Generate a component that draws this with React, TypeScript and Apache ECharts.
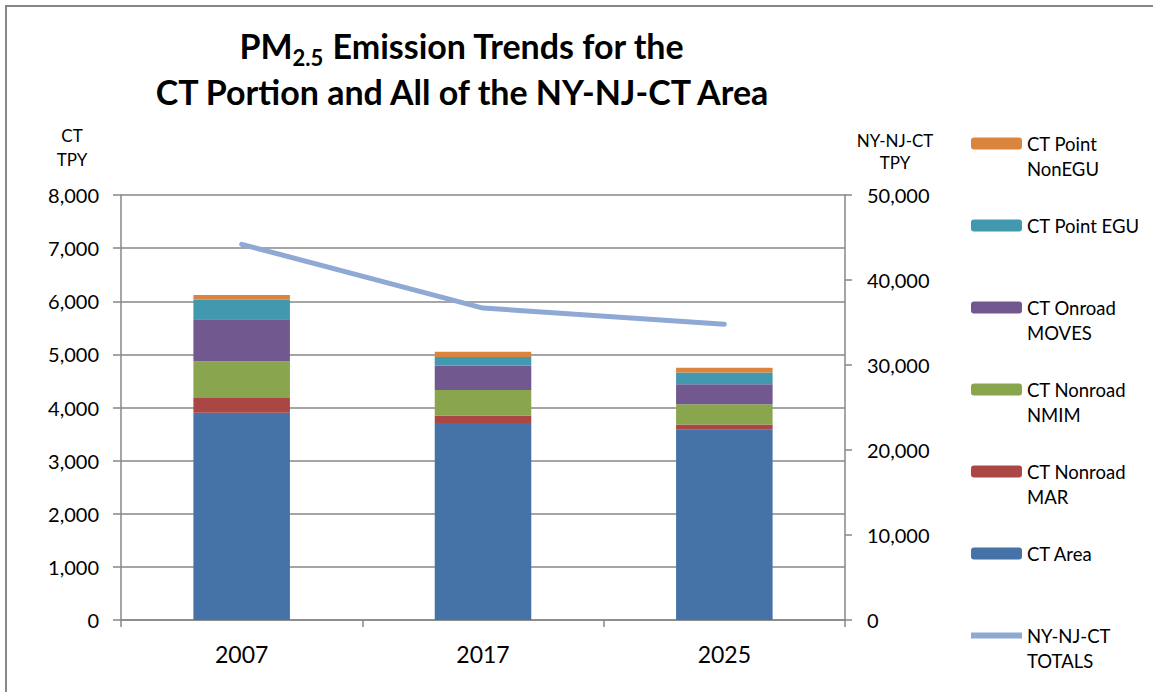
import React, { useEffect, useRef } from "react";
import * as echarts from "echarts";

const categories = ["2007", "2017", "2025"];
const ctArea = [3900, 3710, 3580];
const ctNonroadMAR = [280, 140, 100];
const ctNonroadNMIM = [690, 480, 380];
const ctOnroadMOVES = [790, 460, 380];
const ctPointEGU = [370, 160, 220];
const ctPointNonEGU = [90, 100, 90];
const nyNjCtTotals = [44200, 36700, 34800];

const leftTicks = { min: 0, max: 8000, interval: 1000 };
const rightTicks = { min: 0, max: 50000, interval: 10000 };

const FONT = "Lato, 'Noto Sans', sans-serif";
const GRAY = "#878787";

const legendText: Record<string, string> = {
  "CT Point NonEGU": "\nCT Point\nNonEGU",
  "CT Point EGU": "\nCT Point EGU\n",
  "CT Onroad MOVES": "\nCT Onroad\nMOVES",
  "CT Nonroad NMIM": "\nCT Nonroad\nNMIM",
  "CT Nonroad MAR": "\nCT Nonroad\nMAR",
  "CT Area": "\nCT Area\n",
  "NY-NJ-CT TOTALS": "\nNY-NJ-CT\nTOTALS",
};

export default function App() {
  const ref = useRef<HTMLDivElement>(null);
  useEffect(() => {
    if (!ref.current) return;
    const chart = echarts.init(ref.current, null, { renderer: "svg" });
    const barSeries = [
      { name: "CT Area", data: ctArea, color: "#4572A7" },
      { name: "CT Nonroad MAR", data: ctNonroadMAR, color: "#AA4643" },
      { name: "CT Nonroad NMIM", data: ctNonroadNMIM, color: "#89A54E" },
      { name: "CT Onroad MOVES", data: ctOnroadMOVES, color: "#71588F" },
      { name: "CT Point EGU", data: ctPointEGU, color: "#4198AF" },
      { name: "CT Point NonEGU", data: ctPointNonEGU, color: "#DB843D" },
    ].map((s) => ({
      type: "bar" as const,
      name: s.name,
      data: s.data,
      stack: "ct",
      barWidth: "40%",
      itemStyle: { color: s.color },
    }));

    chart.setOption({
      animation: false,
      textStyle: { fontFamily: FONT, color: "#000" },
      graphic: [
        {
          type: "rect",
          shape: { x: 6, y: 6, width: 1160, height: 700 },
          style: { fill: "none", stroke: GRAY, lineWidth: 2 },
          silent: true,
        },
        {
          type: "text",
          x: 462,
          y: 22,
          style: {
            text: "{a|PM}{s|2.5}{a| Emission Trends for the}\n{a|CT Portion and All of the NY-NJ-CT Area}",
            align: "center",
            verticalAlign: "top",
            fontFamily: FONT,
            rich: {
              a: { fontSize: 34, fontWeight: "bold", lineHeight: 46, fontFamily: FONT, fill: "#000" },
              s: { fontSize: 22, fontWeight: "bold", lineHeight: 46, fontFamily: FONT, fill: "#000", padding: [24, 0, 0, 0] },
            },
          },
        },
      ],
      grid: { left: 121, right: 308, top: 195, bottom: 72 },
      legend: {
        orient: "vertical",
        left: 971,
        top: 106,
        padding: 0,
        itemGap: 7,
        itemWidth: 51,
        itemHeight: 12,
        itemStyle: { borderWidth: 0 },
        data: [
          "CT Point NonEGU",
          "CT Point EGU",
          "CT Onroad MOVES",
          "CT Nonroad NMIM",
          "CT Nonroad MAR",
          "CT Area",
          { name: "NY-NJ-CT TOTALS", icon: "path://M0,0 L51,0 L51,6 L0,6 Z" },
        ],
        formatter: (name: string) => legendText[name] || name,
        textStyle: { fontFamily: FONT, fontSize: 18.5, lineHeight: 25, color: "#000" },
        selectedMode: false,
      },
      xAxis: {
        type: "category",
        data: categories,
        boundaryGap: true,
        axisLine: { lineStyle: { color: GRAY, width: 1.5 } },
        axisTick: { show: true, length: 7, lineStyle: { color: GRAY, width: 1.5 } },
        axisLabel: { fontSize: 23, margin: 22, color: "#000", fontFamily: FONT },
      },
      yAxis: [
        {
          type: "value",
          min: leftTicks.min,
          max: leftTicks.max,
          interval: leftTicks.interval,
          name: "CT\nTPY",
          nameLocation: "end",
          nameGap: 24,
          nameTextStyle: { fontSize: 17, lineHeight: 24, color: "#000", fontFamily: FONT, padding: [0, 98, 0, 0] },
          axisLine: { show: true, lineStyle: { color: GRAY, width: 1.5 } },
          axisTick: { show: true, length: 8, lineStyle: { color: GRAY, width: 1.5 } },
          axisLabel: {
            fontSize: 20,
            margin: 22,
            color: "#000",
            fontFamily: FONT,
            formatter: (v: number) => v.toLocaleString("en-US"),
          },
          splitLine: { show: true, lineStyle: { color: GRAY, width: 1.5 } },
        },
        {
          type: "value",
          min: rightTicks.min,
          max: rightTicks.max,
          interval: rightTicks.interval,
          name: "NY-NJ-CT\nTPY",
          nameLocation: "end",
          nameGap: 22,
          nameTextStyle: { fontSize: 17, lineHeight: 22, color: "#000", fontFamily: FONT, padding: [0, 0, 0, 100] },
          axisLine: { show: true, lineStyle: { color: GRAY, width: 1.5 } },
          axisTick: { show: true, length: 7, lineStyle: { color: GRAY, width: 1.5 } },
          axisLabel: {
            fontSize: 20,
            margin: 22,
            color: "#000",
            fontFamily: FONT,
            formatter: (v: number) => v.toLocaleString("en-US"),
          },
          splitLine: { show: false },
        },
      ],
      series: [
        ...barSeries,
        {
          type: "line",
          name: "NY-NJ-CT TOTALS",
          yAxisIndex: 1,
          data: nyNjCtTotals,
          showSymbol: false,
          symbol: "none",
          lineStyle: { color: "#8EA9D3", width: 5, cap: "round" },
          itemStyle: { color: "#8EA9D3" },
          z: 5,
        },
      ],
    });
    return () => chart.dispose();
  }, []);
  return (
    <div
      ref={ref}
      style={{ position: "absolute", left: 0, top: 0, width: 1153, height: 692, background: "#fff" }}
    />
  );
}
